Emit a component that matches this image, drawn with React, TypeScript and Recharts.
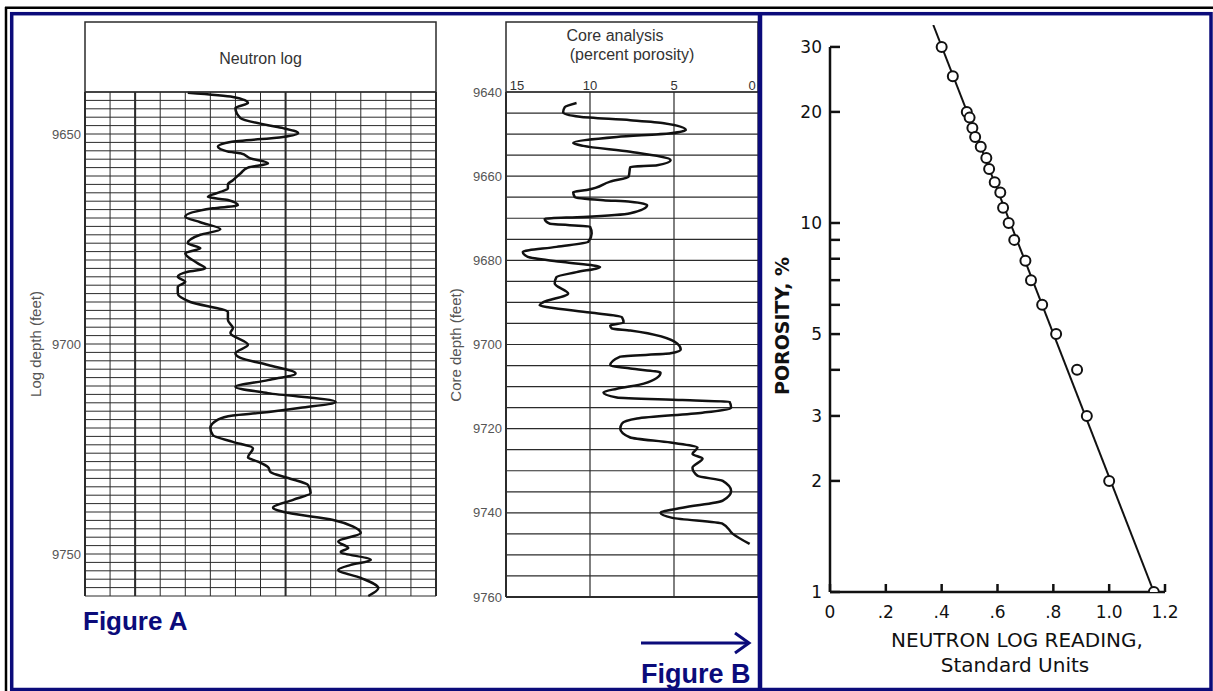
import React from 'react';
import {
  LineChart,
  Line,
  XAxis,
  YAxis,
  CartesianGrid,
  ReferenceLine,
  ScatterChart,
  Scatter,
} from 'recharts';

// Figure A: neutron log trace, depth in feet, reading in chart divisions (0-14)
const NEUTRON_DEPTH = [
  9640.2, 9641.2, 9642.6, 9643.8, 9646.2, 9647.9, 9648.6, 9649.8, 9650.7, 9651.9,
  9653.0, 9654.2, 9654.6, 9655.8, 9657.0, 9658.0, 9659.4, 9661.0, 9662.0, 9663.0,
  9663.8, 9665.0, 9665.7, 9667.0, 9667.7, 9669.7, 9671.0, 9672.7, 9674.0, 9676.0,
  9677.2, 9678.4, 9680.8, 9682.0, 9682.8, 9684.0, 9685.2, 9686.4, 9688.0, 9690.0,
  9692.4, 9694.3, 9696.2, 9697.4, 9700.2, 9702.2, 9703.3, 9705.0, 9707.0, 9708.6,
  9710.2, 9711.7, 9713.8, 9715.2, 9716.4, 9717.0, 9718.0, 9720.0, 9721.7, 9723.3,
  9724.8, 9727.0, 9728.0, 9729.3, 9730.5, 9731.9, 9733.6, 9735.5, 9737.1, 9739.0,
  9740.2, 9741.9, 9743.5, 9745.0, 9747.0, 9748.6, 9749.5, 9751.4, 9752.6, 9753.8,
  9755.7, 9758.1, 9760.0,
];
const NEUTRON_READING = [
  4.1, 5.9, 6.5, 6.0, 6.2, 7.3, 7.9, 8.5, 7.9, 5.8,
  5.3, 5.7, 6.2, 6.6, 7.3, 6.5, 6.2, 5.9, 5.7, 5.7,
  5.4, 4.9, 5.7, 6.1, 5.1, 4.0, 4.6, 5.4, 4.6, 4.1,
  4.6, 4.0, 4.5, 4.8, 4.1, 3.7, 4.0, 3.7, 3.7, 4.2,
  5.7, 5.7, 5.9, 5.8, 6.5, 6.0, 6.2, 7.3, 8.4, 7.3,
  6.0, 7.3, 10.0, 8.6, 7.0, 5.9, 5.3, 5.0, 5.1, 5.9,
  6.7, 6.5, 6.9, 7.3, 7.4, 8.1, 8.9, 9.0, 8.3, 7.5,
  8.1, 9.9, 10.7, 11.0, 10.1, 10.5, 10.2, 11.4, 10.6, 10.1,
  11.0, 11.7, 11.3,
];

// Figure B: core analysis, percent porosity against core depth
const CORE_DEPTH = [
  9642.6, 9643.6, 9644.8, 9645.9, 9646.7, 9647.4, 9649.0, 9649.8, 9650.7, 9652.1,
  9652.8, 9654.2, 9656.2, 9657.4, 9657.8, 9660.1, 9661.3, 9663.3, 9663.8, 9665.0,
  9665.7, 9666.1, 9666.9, 9668.8, 9669.7, 9670.1, 9671.3, 9672.0, 9673.6, 9675.6,
  9676.8, 9678.0, 9679.2, 9680.4, 9681.6, 9682.8, 9684.0, 9685.5, 9687.9, 9690.0,
  9690.7, 9691.2, 9692.4, 9693.5, 9694.8, 9695.5, 9696.2, 9696.7, 9699.8, 9701.2,
  9702.1, 9702.9, 9705.0, 9705.7, 9706.7, 9709.3, 9710.5, 9711.4, 9712.6, 9713.2,
  9713.6, 9715.0, 9716.2, 9717.6, 9718.8, 9720.0, 9722.1, 9723.3, 9724.5, 9726.0,
  9727.1, 9729.3, 9731.2, 9732.4, 9734.8, 9737.1, 9738.8, 9740.0, 9741.2, 9742.6,
  9745.0, 9747.4,
];
const CORE_POROSITY = [
  10.8, 11.5, 11.6, 10.6, 7.6, 5.6, 4.3, 5.2, 8.4, 11.0,
  10.4, 7.6, 5.2, 6.0, 7.6, 7.7, 8.8, 10.2, 11.0, 10.9,
  9.2, 7.6, 6.6, 7.6, 10.4, 12.7, 12.4, 10.0, 9.9, 10.1,
  12.0, 14.0, 13.7, 11.6, 9.4, 10.8, 12.0, 12.1, 11.3, 12.8,
  13.0, 12.4, 10.0, 8.1, 8.0, 8.8, 8.7, 7.6, 4.8, 4.6,
  5.2, 8.2, 8.8, 7.6, 5.8, 6.8, 8.4, 9.2, 8.4, 4.5,
  1.7, 1.6, 3.3, 7.2, 8.1, 8.2, 7.6, 5.2, 3.6, 3.9,
  3.3, 3.9, 3.6, 2.1, 1.6, 2.1, 4.5, 5.8, 5.1, 2.1,
  1.5, 0.5,
];

// crossplot: porosity vs neutron log reading
const XPLOT_READING = [
  0.40, 0.44, 0.49, 0.50, 0.51, 0.52, 0.54, 0.56, 0.57, 0.59, 0.61,
  0.62, 0.64, 0.66, 0.70, 0.72, 0.76, 0.81, 0.885, 0.92, 1.00, 1.16,
];
const XPLOT_POROSITY = [
  30, 25, 20, 19.3, 18.1, 17.1, 16.1, 15, 14, 12.9, 12.1,
  11, 10, 9, 7.9, 7, 6, 5, 4, 3, 2, 1,
];
const FIT_READING = [0.37, 1.16];
const FIT_POROSITY = [34.4, 1];

// ticks
const LOG_DIVISIONS = [0, 1, 2, 3, 4, 5, 6, 7, 8, 9, 10, 11, 12, 13, 14];
const LOG_DEPTH_TICKS = Array.from({ length: 61 }, (_, i) => 9640 + i * 2);
const LOG_DEPTH_LABELS = [9650, 9700, 9750];
const CORE_DEPTH_TICKS = Array.from({ length: 25 }, (_, i) => 9640 + i * 5);
const CORE_DEPTH_LABELS = [9640, 9660, 9680, 9700, 9720, 9740, 9760];
const CORE_POROSITY_TICKS = [0, 5, 10, 15];
const READING_TICKS = [0, 0.2, 0.4, 0.6, 0.8, 1.0, 1.2];
const READING_LABELS = ['0', '.2', '.4', '.6', '.8', '1.0', '1.2'];
const POROSITY_TICKS = [1, 2, 3, 4, 5, 6, 7, 8, 9, 10, 20, 30];
const POROSITY_LABELS = [1, 2, 3, 5, 10, 20, 30];

const NAVY = '#0b0b7a';
const INK = '#111';
const GRID = '#2b2b2b';
const GRAY = '#555';
const SANS = '"Liberation Sans", Arial, sans-serif';
const LETTERING = '"DejaVu Sans", sans-serif';

const neutronData = NEUTRON_DEPTH.map((depth, i) => ({ depth, value: NEUTRON_READING[i] }));
const coreData = CORE_DEPTH.map((depth, i) => ({ depth, value: CORE_POROSITY[i] }));
const xplotData = XPLOT_READING.map((x, i) => ({ x, y: XPLOT_POROSITY[i] }));
const fitData = FIT_READING.map((x, i) => ({ x, y: FIT_POROSITY[i] }));

// header box above the log tracks
const HeaderBox = ({ viewBox, lines }: any) => {
  if (!viewBox) return <g />;
  const { x, y, width, height } = viewBox;
  return (
    <g>
      <rect x={x} y={y} width={width} height={height} fill="none" stroke={GRID} strokeWidth={1.5} />
      {lines.map((l: any) => (
        <text
          key={l.text}
          x={x + width / 2 + l.dx}
          y={y + l.dy}
          textAnchor="middle"
          fontFamily={SANS}
          fontSize={l.size}
          fill="#333"
        >
          {l.text}
        </text>
      ))}
    </g>
  );
};

const DepthTitle = ({ viewBox, text, dx, dy }: any) => {
  if (!viewBox) return <g />;
  const cx = viewBox.x + dx;
  const cy = viewBox.y + dy;
  return (
    <text
      x={cx}
      y={cy}
      transform={`rotate(-90, ${cx}, ${cy})`}
      textAnchor="middle"
      dominantBaseline="central"
      fontFamily={SANS}
      fontSize={15}
      fill={GRAY}
    >
      {text}
    </text>
  );
};

const DepthTick = ({ x, y, payload, labels }: any) => {
  if (!labels.includes(payload.value)) return <g />;
  return (
    <text x={x} y={y} dy={4.5} textAnchor="end" fontFamily={SANS} fontSize={13} fill={GRAY}>
      {payload.value}
    </text>
  );
};

const CoreTopTick = ({ x, y, payload }: any) => {
  let shift = 0;
  if (payload.value === 15) shift = 11;
  if (payload.value === 0) shift = -6;
  return (
    <text x={x + shift} y={y} dy={-2} textAnchor="middle" fontFamily={SANS} fontSize={13} fill="#333">
      {payload.value}
    </text>
  );
};

const PorosityTick = ({ x, y, payload }: any) => (
  <g>
    <line x1={x + 8} x2={x + 18} y1={y} y2={y} stroke={INK} strokeWidth={2.5} />
    {POROSITY_LABELS.includes(payload.value) && (
      <text x={x} y={y} dy={6} textAnchor="end" fontFamily={LETTERING} fontSize={17} fill={INK}>
        {payload.value}
      </text>
    )}
  </g>
);

const ReadingTick = ({ x, y, index }: any) => (
  <g>
    <line x1={x} x2={x} y1={y} y2={y - 8} stroke={INK} strokeWidth={2.5} />
    <text x={x} y={y + 26} textAnchor="middle" fontFamily={LETTERING} fontSize={17} fill={INK}>
      {READING_LABELS[index]}
    </text>
  </g>
);

const PorosityTitle = ({ viewBox }: any) => {
  if (!viewBox) return <g />;
  const cx = viewBox.x + 22;
  const cy = viewBox.y + 301;
  return (
    <text
      x={cx}
      y={cy}
      transform={`rotate(-90, ${cx}, ${cy})`}
      textAnchor="middle"
      dominantBaseline="central"
      fontFamily={LETTERING}
      fontSize={19}
      fontWeight="bold"
      fill={INK}
    >
      POROSITY, %
    </text>
  );
};

const ReadingTitle = ({ viewBox }: any) => {
  if (!viewBox) return <g />;
  const cx = viewBox.x + 187;
  return (
    <g fontFamily={LETTERING} fontSize={20} fill={INK} textAnchor="middle">
      <text x={cx} y={viewBox.y + 55}>NEUTRON LOG READING,</text>
      <text x={cx - 2} y={viewBox.y + 80}>Standard Units</text>
    </g>
  );
};

const OpenCircle = ({ cx, cy }: any) => (
  <circle cx={cx} cy={cy} r={5} fill="#fff" stroke={INK} strokeWidth={2} />
);

const NeutronLogChart = () => (
  <LineChart
    width={450}
    height={691}
    layout="vertical"
    data={neutronData}
    margin={{ top: 22, right: 14, bottom: 95, left: 0 }}
  >
    <CartesianGrid stroke={GRID} strokeWidth={1} />
    <XAxis
      type="number"
      orientation="top"
      domain={[0, 14]}
      ticks={LOG_DIVISIONS}
      interval={0}
      height={70}
      tickSize={0}
      tickLine={false}
      axisLine={false}
      tick={() => <g />}
      label={<HeaderBox lines={[{ text: 'Neutron log', dx: 0, dy: 42, size: 16 }]} />}
    />
    <YAxis
      type="number"
      dataKey="depth"
      domain={[9640, 9760]}
      ticks={LOG_DEPTH_TICKS}
      interval={0}
      width={85}
      tickSize={0}
      tickMargin={4}
      tickLine={false}
      axisLine={false}
      tick={(p: any) => <DepthTick {...p} labels={LOG_DEPTH_LABELS} />}
      label={<DepthTitle text="Log depth (feet)" dx={35} dy={252} />}
    />
    <ReferenceLine x={0} stroke={GRID} strokeWidth={2} />
    <ReferenceLine x={2} stroke={GRID} strokeWidth={2} />
    <ReferenceLine x={8} stroke={GRID} strokeWidth={2} />
    <ReferenceLine x={14} stroke={GRID} strokeWidth={2} />
    <Line
      type="monotone"
      dataKey="value"
      stroke={INK}
      strokeWidth={2.5}
      dot={false}
      isAnimationActive={false}
    />
  </LineChart>
);

const CoreChart = () => (
  <LineChart
    width={335}
    height={691}
    layout="vertical"
    data={coreData}
    margin={{ top: 22, right: 7, bottom: 94, left: 0 }}
  >
    <CartesianGrid stroke={GRID} strokeWidth={1.2} />
    <XAxis
      type="number"
      orientation="top"
      domain={[0, 15]}
      reversed
      ticks={CORE_POROSITY_TICKS}
      interval={0}
      height={70}
      tickSize={0}
      tickMargin={0}
      tickLine={false}
      axisLine={false}
      tick={(p: any) => <CoreTopTick {...p} />}
      label={
        <HeaderBox
          lines={[
            { text: 'Core analysis', dx: -17, dy: 19, size: 16 },
            { text: '(percent porosity)', dx: 0, dy: 38, size: 16 },
          ]}
        />
      }
    />
    <YAxis
      type="number"
      dataKey="depth"
      domain={[9640, 9760]}
      ticks={CORE_DEPTH_TICKS}
      interval={0}
      width={76}
      tickSize={0}
      tickMargin={4}
      tickLine={false}
      axisLine={false}
      tick={(p: any) => <DepthTick {...p} labels={CORE_DEPTH_LABELS} />}
      label={<DepthTitle text="Core depth (feet)" dx={25} dy={253} />}
    />
    <ReferenceLine x={15} stroke={GRID} strokeWidth={2} />
    <ReferenceLine y={9760} stroke={GRID} strokeWidth={2} />
    <Line
      type="monotone"
      dataKey="value"
      stroke={INK}
      strokeWidth={2.5}
      dot={false}
      isAnimationActive={false}
    />
  </LineChart>
);

const CrossplotChart = () => (
  <ScatterChart width={453} height={691} margin={{ top: 25, right: 48, bottom: 69, left: 0 }}>
    <XAxis
      type="number"
      dataKey="x"
      domain={[0, 1.2]}
      ticks={READING_TICKS}
      interval={0}
      allowDataOverflow
      height={30}
      tickSize={0}
      tickMargin={0}
      tickLine={false}
      axisLine={{ stroke: INK, strokeWidth: 2.5 }}
      tick={(p: any) => <ReadingTick {...p} />}
      label={<ReadingTitle />}
    />
    <YAxis
      type="number"
      dataKey="y"
      scale="log"
      domain={[1, 34.4]}
      ticks={POROSITY_TICKS}
      interval={0}
      allowDataOverflow
      width={70}
      tickSize={0}
      tickMargin={8}
      tickLine={false}
      axisLine={false}
      tick={(p: any) => <PorosityTick {...p} />}
      label={<PorosityTitle />}
    />
    <ReferenceLine segment={[{ x: 0, y: 1 }, { x: 0, y: 30 }]} stroke={INK} strokeWidth={2.5} />
    <Scatter
      data={fitData}
      line={{ stroke: INK, strokeWidth: 2 }}
      shape={() => <g />}
      isAnimationActive={false}
    />
    <Scatter data={xplotData} shape={(p: any) => <OpenCircle {...p} />} isAnimationActive={false} />
  </ScatterChart>
);

export default function App() {
  return (
    <div style={{ position: 'absolute', left: 0, top: 0, width: 1213, height: 691, background: '#fff' }}>
      <div style={{ position: 'absolute', left: 0, top: 0 }}>
        <NeutronLogChart />
      </div>
      <div style={{ position: 'absolute', left: 430, top: 0 }}>
        <CoreChart />
      </div>
      <div style={{ position: 'absolute', left: 760, top: 0 }}>
        <CrossplotChart />
      </div>
      <svg
        width={1213}
        height={691}
        style={{ position: 'absolute', left: 0, top: 0, pointerEvents: 'none' }}
      >
        <line x1={5} y1={7.7} x2={1213} y2={7.7} stroke="#000" strokeWidth={2.5} />
        <line x1={6} y1={7} x2={6} y2={691} stroke="#000" strokeWidth={2.5} />
        <rect x={11.7} y={13.7} width={1199.3} height={675.8} fill="none" stroke={NAVY} strokeWidth={3.5} />
        <line x1={760} y1={13} x2={760} y2={691} stroke={NAVY} strokeWidth={4.5} />
        <line x1={641} y1={643} x2={748} y2={643} stroke={NAVY} strokeWidth={3} />
        <polyline points="735,633 749,643 735,653" fill="none" stroke={NAVY} strokeWidth={3} />
        <text x={83} y={630} fontFamily={SANS} fontWeight="bold" fontSize={26} fill={NAVY}>
          Figure A
        </text>
        <text x={641} y={683} fontFamily={SANS} fontWeight="bold" fontSize={27} fill={NAVY}>
          Figure B
        </text>
      </svg>
    </div>
  );
}
